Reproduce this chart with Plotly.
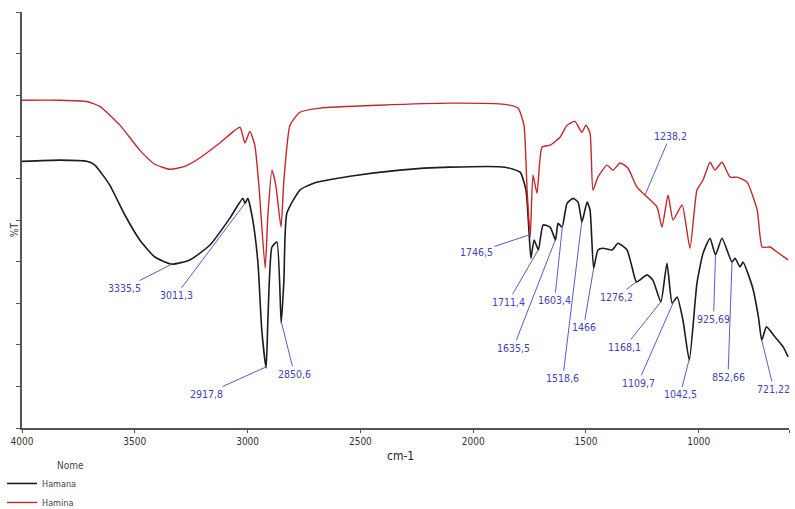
import numpy as np
import plotly.graph_objects as go

# Wavenumber (cm-1) and %T for the two spectra
wn_hamina = [4000, 3832, 3713, 3655, 3566, 3478, 3411, 3345, 3278, 3212, 3123, 3034, 3012, 2990, 2968,
             2950, 2922, 2910, 2892, 2875, 2852, 2839, 2812, 2768, 2679, 2413, 2103, 1859, 1801, 1775,
             1761, 1747, 1735, 1717, 1695, 1659, 1615, 1584, 1549, 1518, 1500, 1482, 1469, 1447, 1407,
             1380, 1349, 1314, 1274, 1229, 1185, 1163, 1136, 1114, 1074, 1039, 1008, 981, 950, 928,
             897, 861, 830, 786, 741, 719, 684, 653, 604]
t_hamina = [78.8, 78.8, 78.5, 77.3, 72.8, 66.8, 63.4, 62.2, 62.9, 64.9, 68.5, 72.3, 68.5, 71.3, 68.0,
            58.4, 38.4, 51.2, 62.0, 58.4, 48.3, 59.6, 72.8, 75.9, 76.9, 77.6, 78.1, 77.8, 76.9, 72.8,
            57.2, 45.9, 60.8, 56.4, 67.5, 68.0, 69.9, 72.8, 73.7, 71.1, 72.8, 70.9, 57.2, 60.3, 63.2,
            62.0, 63.7, 62.5, 57.9, 55.5, 53.1, 48.3, 56.0, 50.0, 53.6, 43.2, 57.2, 59.6, 63.9, 62.0,
            63.9, 60.3, 60.3, 59.1, 52.4, 43.5, 43.5, 42.3, 40.4]

wn_hamana = [4000, 3832, 3713, 3677, 3611, 3544, 3478, 3411, 3336, 3256, 3167, 3079, 3021, 3011, 2999,
             2977, 2954, 2937, 2918, 2910, 2892, 2870, 2851, 2839, 2826, 2768, 2710, 2546, 2325, 2103,
             1859, 1792, 1766, 1753, 1744, 1730, 1711, 1690, 1659, 1635, 1624, 1606, 1584, 1557, 1535,
             1518, 1495, 1482, 1466, 1447, 1424, 1384, 1358, 1318, 1296, 1276, 1229, 1203, 1168, 1141,
             1118, 1096, 1070, 1042, 1008, 981, 950, 926, 897, 853, 839, 817, 804, 762, 735, 721, 700,
             662, 626, 604]
t_hamana = [64.1, 64.4, 64.1, 63.2, 58.4, 51.2, 45.2, 41.1, 39.4, 40.4, 44.0, 50.4, 55.2, 54.0, 55.2,
            50.0, 39.6, 23.5, 14.4, 25.9, 43.5, 44.7, 25.2, 35.5, 51.6, 57.2, 58.8, 60.5, 62.0, 62.7,
            62.7, 61.5, 57.2, 47.6, 40.8, 45.2, 42.8, 48.8, 48.3, 45.2, 49.2, 48.3, 54.0, 55.2, 54.3,
            49.5, 54.3, 52.4, 38.4, 42.8, 43.2, 42.8, 44.4, 42.8, 38.7, 35.1, 36.8, 35.5, 30.3, 39.6,
            30.0, 31.5, 25.9, 16.3, 34.8, 42.0, 45.6, 41.6, 45.6, 39.9, 40.8, 38.7, 39.9, 33.9, 26.5,
            21.1, 24.3, 21.9, 19.5, 17.1]

# Peak labels: text, wavenumber, series
peak_text = ["3335,5", "3011,3", "2917,8", "2850,6", "1746,5", "1711,4", "1635,5", "1603,4", "1518,6",
             "1466", "1276,2", "1168,1", "1109,7", "1042,5", "925,69", "852,66", "721,22", "1238,2"]
peak_wn = [3335.5, 3011.3, 2917.8, 2850.6, 1746.5, 1711.4, 1635.5, 1603.4, 1518.6,
           1466, 1276.2, 1168.1, 1109.7, 1042.5, 925.69, 852.66, 721.22, 1238.2]
peak_series = ["k", "k", "k", "k", "r", "k", "k", "k", "k", "k", "k", "k", "k", "k", "k", "k", "k", "r"]
# label offsets in pixels (style)
peak_dx = [-47, -69, -60, 13, -54, -30, -42, -8, -19, -10, -20, -36, -36, -9, -2, -4, 12, 25]
peak_dy = [24, 92, 27, 52, 18, 52, 108, 76, 157, 59, 15, 45, 82, 35, 64, 115, 49, -59]

tick_vals = [4000, 3500, 3000, 2500, 2000, 1500, 1000, 600]
tick_text = ["4000", "3500", "3000", "2500", "2000", "1500", "1000", "600"]

FONT = "DejaVu Sans Condensed, Liberation Sans Narrow, Arial Narrow, Liberation Sans, Arial, sans-serif"
BLUE = "#4343b5"

fig = go.Figure()
fig.add_trace(go.Scatter(x=wn_hamana, y=t_hamana, mode="lines", name="Hamana",
                         line=dict(color="#1c1c1c", width=1.6, shape="spline", smoothing=0.5)))
fig.add_trace(go.Scatter(x=wn_hamina, y=t_hamina, mode="lines", name="Hamina",
                         line=dict(color="#c4282c", width=1.4, shape="spline", smoothing=0.5)))

annotations = []
for txt, wn, s, dx, dy in zip(peak_text, peak_wn, peak_series, peak_dx, peak_dy):
    if s == "k":
        yv = float(np.interp(wn, wn_hamana[::-1], t_hamana[::-1]))
    else:
        yv = float(np.interp(wn, wn_hamina[::-1], t_hamina[::-1]))
    annotations.append(dict(x=wn, y=yv, xref="x", yref="y", text=txt, showarrow=True,
                            arrowhead=0, arrowwidth=1, arrowcolor="#5a5ac8",
                            ax=dx, ay=dy, standoff=0,
                            font=dict(family=FONT, size=10.5, color=BLUE)))

annotations.append(dict(x=(400 - 22) / 767, y=(428 - 456) / 416.3, xref="paper", yref="paper",
                        text="cm-1", showarrow=False, xanchor="center", yanchor="middle",
                        font=dict(family=FONT, size=12, color="#222")))
annotations.append(dict(x=(14 - 22) / 767, y=(428 - 230) / 416.3, xref="paper", yref="paper",
                        text="%T", textangle=-90, showarrow=False, xanchor="center",
                        yanchor="middle", font=dict(family=FONT, size=10, color="#333")))
annotations.append(dict(x=(70 - 22) / 767, y=(428 - 466) / 416.3, xref="paper", yref="paper",
                        text="Nome", showarrow=False, xanchor="center", yanchor="middle",
                        font=dict(family=FONT, size=10, color="#444")))

fig.update_layout(
    width=795, height=509,
    margin=dict(l=22, r=6, t=12, b=81, autoexpand=False),
    paper_bgcolor="white", plot_bgcolor="white",
    font=dict(family=FONT, size=10, color="#333"),
    showlegend=True,
    legend=dict(x=-0.026, y=(428 - 469) / 416.3, xanchor="left", yanchor="top",
                font=dict(size=9, color="#444"), tracegroupgap=0,
                bgcolor="rgba(0,0,0,0)"),
    annotations=annotations,
)
fig.update_xaxes(range=[4000, 600], tickvals=tick_vals, ticktext=tick_text,
                 ticks="outside", ticklen=3, tickcolor="#555", showline=True,
                 linecolor="#555", linewidth=1.5, showgrid=False, zeroline=False,
                 tickfont=dict(family=FONT, size=10, color="#333"))
fig.update_yaxes(range=[0, 100], dtick=10, ticks="outside", ticklen=4, tickcolor="#555",
                 showticklabels=False, showline=True, linecolor="#555", linewidth=1.5,
                 showgrid=False, zeroline=False)

fig.write_html("out.html", config={"displayModeBar": False},
               post_script="document.body.style.margin='0';document.body.style.padding='0';"
                           "document.body.style.overflow='hidden';")
